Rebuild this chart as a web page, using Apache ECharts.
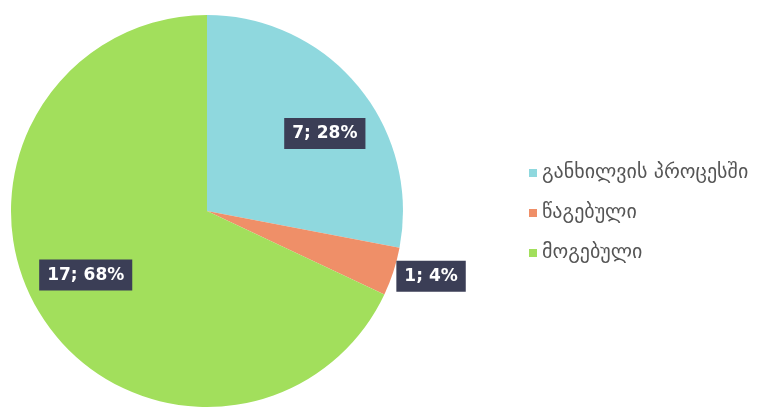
<!DOCTYPE html>
<html>
<head>
<meta charset="utf-8">
<script src="https://cdn.jsdelivr.net/npm/echarts@6/dist/echarts.min.js"></script>
<style>
html, body { margin: 0; padding: 0; background: #fff; }
#pieChart { width: 764px; height: 409px; }
</style>
</head>
<body>
<div id="pieChart"></div>
<script>
var categories = ['განხილვის პროცესში', 'წაგებული', 'მოგებული'];
var values = [7, 1, 17];
var percents = ['28%', '4%', '68%'];
var colors = ['#8fd8de', '#ef8f68', '#a2df5c'];
var labelOffsets = [[40, -13], [128, 34], [-36, 10]];

var pieChart = echarts.init(document.getElementById('pieChart'));
var option = {
    animation: false,
    legend: {
        orient: 'vertical',
        left: 524,
        top: 158,
        itemWidth: 8,
        itemHeight: 8,
        itemGap: 20,
        icon: 'rect',
        textStyle: {
            fontFamily: 'DejaVu Sans',
            fontSize: 20,
            color: '#555'
        },
        data: categories
    },
    series: [
        {
            type: 'pie',
            radius: [0, 196],
            center: [207, 211],
            startAngle: 90,
            clockwise: true,
            label: {
                show: true,
                position: 'inside',
                formatter: function (p) {
                    return p.value + '; ' + percents[p.dataIndex];
                },
                backgroundColor: '#3b3e56',
                color: '#fff',
                fontWeight: 'bold',
                fontSize: 17,
                fontFamily: 'DejaVu Sans',
                padding: [8, 8, 6, 8]
            },
            labelLine: { show: false },
            data: categories.map(function (c, i) {
                return {
                    name: c,
                    value: values[i],
                    itemStyle: { color: colors[i] },
                    label: { offset: labelOffsets[i] }
                };
            })
        }
    ]
};
pieChart.setOption(option);
</script>
</body>
</html>
